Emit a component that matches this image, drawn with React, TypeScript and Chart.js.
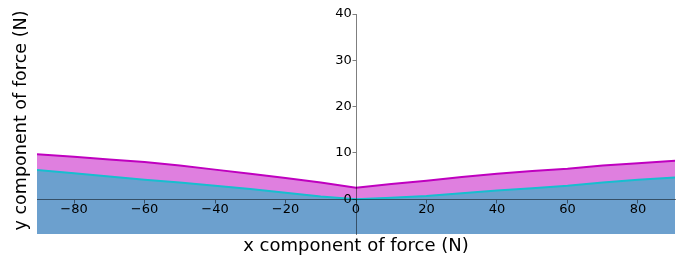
import React, { useEffect, useRef } from "react";
import { Chart, registerables } from "chart.js";

Chart.register(...registerables);

const xValues = [-90.5, -80, -70, -60, -50, -40, -30, -20, -10, 0, 10, 20, 30, 40, 50, 60, 70, 80, 90.5];
const cyanValues = [6.3, 5.6, 4.9, 4.2, 3.6, 2.9, 2.2, 1.4, 0.6, 0.0, 0.3, 0.7, 1.3, 1.9, 2.4, 2.9, 3.6, 4.2, 4.7];
const magentaValues = [9.7, 9.2, 8.6, 8.05, 7.3, 6.4, 5.5, 4.6, 3.6, 2.5, 3.3, 4.0, 4.8, 5.5, 6.1, 6.6, 7.3, 7.8, 8.3];
const xTicks = [-80, -60, -40, -20, 0, 20, 40, 60, 80];
const yTicks = [0, 10, 20, 30, 40];
const xTitle = "x component of force (N)";
const yTitle = "y component of force (N)";

const FONT = "DejaVu Sans";
const fmt = (v: number) => (v < 0 ? "\u2212" + Math.abs(v) : String(v));

const shiftYTitle = {
  id: "shiftYTitle",
  afterLayout(chart: any) {
    chart.boxes.forEach((b: any) => {
      if (b.options && b.options.text === yTitle) {
        b.top -= 3.5;
        b.bottom -= 3.5;
      }
    });
  },
};

export default function App() {
  const ref = useRef<HTMLCanvasElement | null>(null);
  useEffect(() => {
    if (!ref.current) return;
    const chart = new Chart(ref.current, {
      type: "line",
      data: {
        datasets: [
          {
            data: xValues.map((x, i) => ({ x, y: cyanValues[i] })),
            borderColor: "#17becf",
            borderWidth: 2,
            backgroundColor: "rgb(108,160,206)",
            fill: "start",
            pointRadius: 0,
            tension: 0,
          },
          {
            data: xValues.map((x, i) => ({ x, y: magentaValues[i] })),
            borderColor: "#bf00bf",
            borderWidth: 2,
            backgroundColor: "rgba(191,0,191,0.5)",
            fill: "-1",
            pointRadius: 0,
            tension: 0,
          },
        ],
      },
      options: {
        responsive: false,
        animation: false,
        layout: { padding: { top: 14, right: 8, bottom: 1.4, left: 0 } },
        plugins: {
          legend: { display: false },
          tooltip: { enabled: false },
          title: {
            display: true,
            text: xTitle,
            position: "bottom",
            fullSize: false,
            color: "#000",
            font: { family: FONT, size: 18, weight: "normal", lineHeight: 1.2 },
            padding: { top: 2, bottom: 0 },
          },
          subtitle: {
            display: true,
            text: yTitle,
            position: "left",
            fullSize: false,
            color: "#000",
            font: { family: FONT, size: 18, weight: "normal", lineHeight: 1.2 },
            padding: { top: 10.7, bottom: 4.7 },
          },
        },
        scales: {
          x: {
            type: "linear",
            min: -90.5,
            max: 90.5,
            position: { y: 0 } as any,
            afterFit: (s: any) => {
              s.height = 0;
            },
            afterBuildTicks: (s: any) => {
              s.ticks = xTicks.map((v) => ({ value: v }));
            },
            grid: { z: 1, drawOnChartArea: false, drawTicks: true, tickLength: 3.5, color: "rgba(0,0,0,0.5)" },
            border: { z: 1, display: true, color: "rgba(0,0,0,0.5)", width: 1 },
            ticks: {
              z: 1,
              padding: 0,
              color: "#000",
              font: { family: FONT, size: 13, lineHeight: 1 },
              callback: (v: any) => fmt(Number(v)),
              maxRotation: 0,
              autoSkip: false,
            },
          },
          y: {
            type: "linear",
            min: -7.5,
            max: 40,
            position: { x: 0 } as any,
            afterFit: (s: any) => {
              s.width = 0;
            },
            afterBuildTicks: (s: any) => {
              s.ticks = yTicks.map((v) => ({ value: v }));
            },
            grid: { z: 1, drawOnChartArea: false, drawTicks: true, tickLength: 3.5, color: "rgba(0,0,0,0.5)" },
            border: { z: 1, display: true, color: "rgba(0,0,0,0.5)", width: 1 },
            ticks: {
              z: 1,
              padding: 1,
              color: "#000",
              font: { family: FONT, size: 13, lineHeight: 1 },
              callback: (v: any) => fmt(Number(v)) + " ",
              autoSkip: false,
            },
          },
        },
      },
      plugins: [shiftYTitle],
    });
    return () => chart.destroy();
  }, []);
  return (
    <div style={{ position: "fixed", left: 0, top: 0, width: 683, height: 259 }}>
      <canvas ref={ref} width={683} height={259} style={{ width: 683, height: 259 }} />
    </div>
  );
}
